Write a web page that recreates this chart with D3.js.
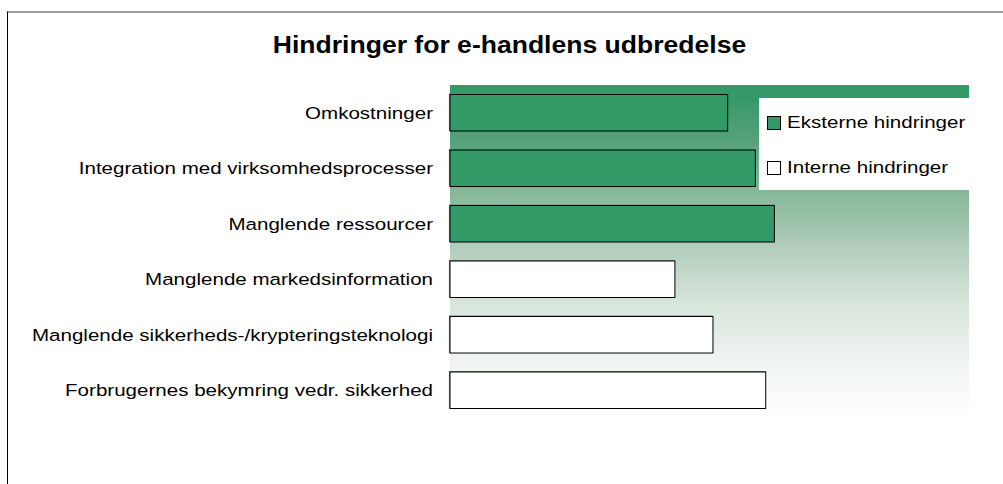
<!DOCTYPE html>
<html>
<head>
<meta charset="utf-8">
<script src="https://cdn.jsdelivr.net/npm/d3@7"></script>
<style>
  html, body { margin: 0; padding: 0; background: #fff; }
  svg { display: block; }
  text { font-family: "Liberation Sans", Arial, sans-serif; fill: #000; }
</style>
</head>
<body>
<svg id="chart" width="1003" height="484"></svg>
<script>
const title = "Hindringer for e-handlens udbredelse";
const categories = [
  "Omkostninger",
  "Integration med virksomhedsprocesser",
  "Manglende ressourcer",
  "Manglende markedsinformation",
  "Manglende sikkerheds-/krypteringsteknologi",
  "Forbrugernes bekymring vedr. sikkerhed"
];
const values = [32.1, 35.3, 37.5, 26.0, 30.4, 36.5];
const seriesOf = ["ext", "ext", "ext", "int", "int", "int"];
const seriesKeys = ["ext", "int"];
const seriesNames = ["Eksterne hindringer", "Interne hindringer"];
const seriesColors = ["#339966", "#ffffff"];
const xMax = 60;

const svg = d3.select("#chart");
const W = 1003, H = 484;
const plot = { left: 450, right: 969, top: 85, bottom: 418 };
const sx = 1.21; // horizontal stretch of text in the reference

// outer frame
svg.append("line").attr("x1", 7).attr("x2", W).attr("y1", 12).attr("y2", 12)
  .attr("stroke", "#808080").attr("stroke-width", 1.5);
svg.append("line").attr("x1", 7.5).attr("x2", 7.5).attr("y1", 11.5).attr("y2", H)
  .attr("stroke", "#000").attr("stroke-width", 1);

// gradient
const defs = svg.append("defs");
const grad = defs.append("linearGradient").attr("id", "bg")
  .attr("x1", 0).attr("y1", 0).attr("x2", 0).attr("y2", 1);
[[0, "#339966"], [0.04, "#35996a"], [0.17, "#58a27b"], [0.33, "#88b89a"],
 [0.5, "#b4cfbe"], [0.66, "#d8e6dc"], [0.83, "#eff4f0"], [1, "#ffffff"]]
  .forEach(([o, c]) => grad.append("stop").attr("offset", o).attr("stop-color", c));

svg.append("rect")
  .attr("x", plot.left).attr("y", plot.top)
  .attr("width", plot.right - plot.left).attr("height", plot.bottom - plot.top)
  .attr("fill", "url(#bg)");

// scales
const x = d3.scaleLinear().domain([0, xMax]).range([plot.left, plot.right]);
const y = d3.scaleBand().domain(categories).range([plot.top, plot.bottom])
  .paddingInner(0.342).paddingOuter(0.171);
const color = d3.scaleOrdinal().domain(seriesKeys).range(seriesColors);

// title
const tg = svg.append("g").attr("transform", `translate(509.5,53) scale(1.13,1)`);
tg.append("text").attr("text-anchor", "middle")
  .attr("font-size", 23.5).attr("font-weight", "bold").text(title);

// bars
const bars = svg.append("g");
categories.forEach((c, i) => {
  const bx = x(0), by = y(c), bw = x(values[i]) - x(0), bh = y.bandwidth();
  // grey shadow on top/left edges
  bars.append("path")
    .attr("d", `M${bx - 0.5},${by + bh} L${bx - 0.5},${by - 0.5} L${bx + bw},${by - 0.5}`)
    .attr("fill", "none").attr("stroke", "#808080").attr("stroke-width", 1.2);
  bars.append("rect")
    .attr("x", bx).attr("y", by).attr("width", bw).attr("height", bh)
    .attr("fill", color(seriesOf[i])).attr("stroke", "#000").attr("stroke-width", 1);
});

// category labels (axis)
const yAxis = d3.axisLeft(y).tickSize(0).tickPadding(0);
const ax = svg.append("g").attr("transform", `translate(433,0)`).call(yAxis);
ax.select(".domain").remove();
ax.selectAll(".tick text").each(function () {
  const t = d3.select(this);
  t.attr("font-size", 17).attr("font-family", null).attr("fill", "#000")
    .attr("x", 0).attr("dy", "0.35em")
    .attr("transform", `scale(${sx},1)`);
});

// legend
const lg = svg.append("g");
lg.append("rect").attr("x", 759).attr("y", 98).attr("width", 210).attr("height", 92)
  .attr("fill", "#fff");
const legY = [122.5, 167.5];
seriesKeys.forEach((k, i) => {
  lg.append("rect").attr("x", 767.5).attr("y", legY[i] - 6).attr("width", 13).attr("height", 13)
    .attr("fill", color(k)).attr("stroke", "#000").attr("stroke-width", 1);
  lg.append("g").attr("transform", `translate(787,${legY[i]}) scale(${sx},1)`)
    .append("text").attr("font-size", 17).attr("dy", "0.35em").text(seriesNames[i]);
});
</script>
</body>
</html>
